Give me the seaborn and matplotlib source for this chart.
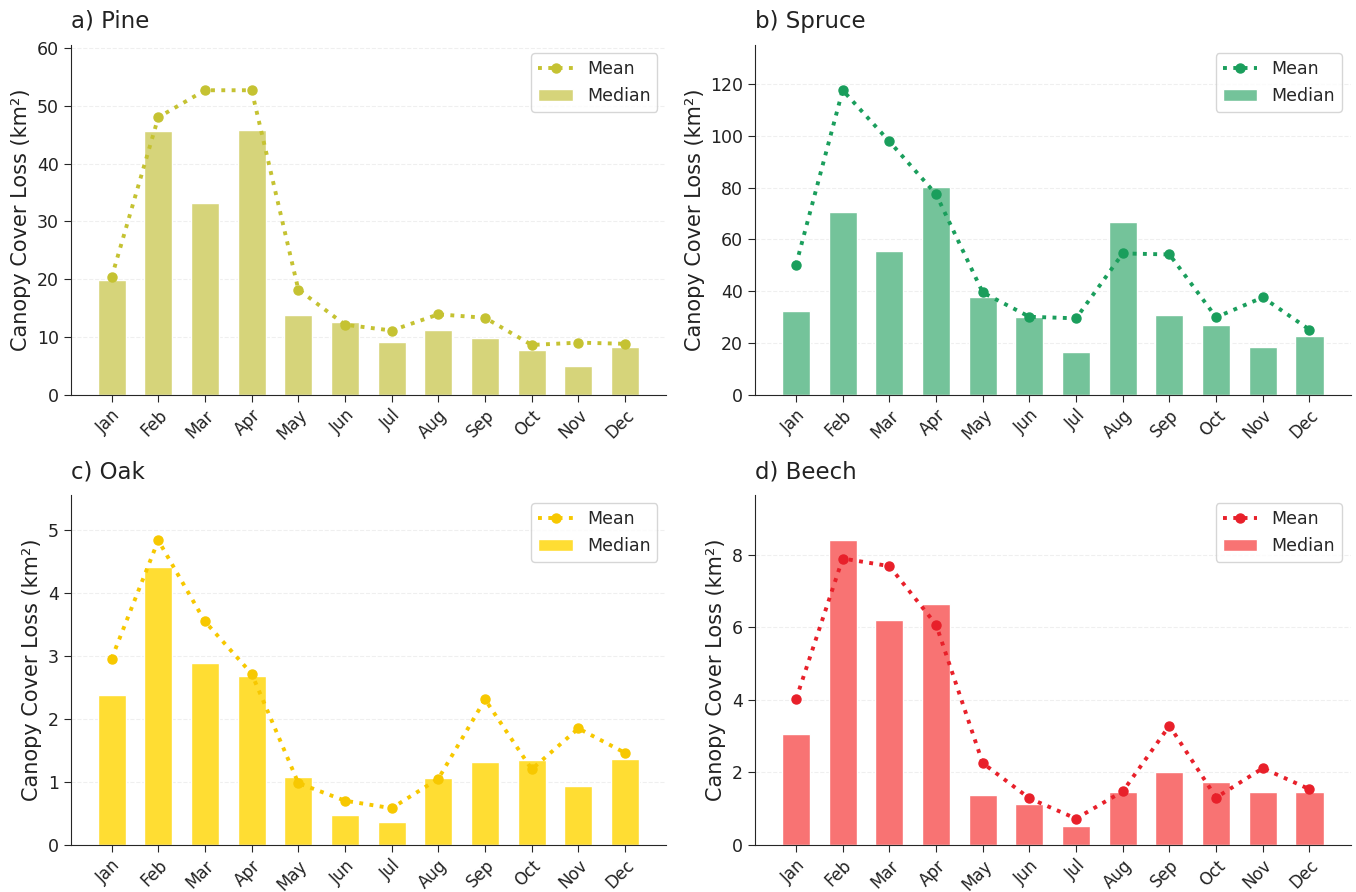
import numpy as np
import pandas as pd
import matplotlib
matplotlib.use("Agg")
import matplotlib.pyplot as plt
import seaborn as sns

# --- DATA ---
MONTHS = ["Jan", "Feb", "Mar", "Apr", "May", "Jun",
          "Jul", "Aug", "Sep", "Oct", "Nov", "Dec"]

pine_median = [19.8, 45.7, 33.1, 45.8, 13.8, 12.5, 9.1, 11.2, 9.8, 7.7, 5.0, 8.3]
pine_mean = [20.3, 48.0, 52.7, 52.7, 18.2, 12.1, 11.1, 13.9, 13.3, 8.6, 9.0, 8.8]

spruce_median = [32.4, 70.8, 55.6, 80.3, 37.9, 30.1, 16.4, 66.6, 30.9, 27.0, 18.5, 22.5]
spruce_mean = [50.2, 117.7, 97.9, 77.5, 39.5, 30.1, 29.5, 54.6, 54.2, 29.9, 37.6, 25.1]

oak_median = [2.38, 4.42, 2.89, 2.68, 1.08, 0.48, 0.36, 1.06, 1.32, 1.34, 0.94, 1.37]
oak_mean = [2.96, 4.84, 3.55, 2.72, 0.98, 0.70, 0.58, 1.05, 2.31, 1.20, 1.85, 1.46]

beech_median = [3.05, 8.39, 6.19, 6.64, 1.38, 1.12, 0.52, 1.46, 2.01, 1.72, 1.44, 1.44]
beech_mean = [4.01, 7.89, 7.68, 6.07, 2.25, 1.28, 0.72, 1.47, 3.28, 1.30, 2.11, 1.53]

PANELS = [
    ("a) Pine", pine_median, pine_mean, "#D6D47A", "#C5C232"),
    ("b) Spruce", spruce_median, spruce_mean, "#74C39A", "#1A9E5C"),
    ("c) Oak", oak_median, oak_mean, "#FFDD33", "#F7C800"),
    ("d) Beech", beech_median, beech_mean, "#F87373", "#E8202A"),
]


def main():
    sns.set_style("ticks")
    plt.rcParams["font.family"] = ["DejaVu Sans"]

    fig, axes = plt.subplots(2, 2, figsize=(13.56, 8.92), dpi=100)
    fig.subplots_adjust(left=0.052, right=0.996, bottom=0.053, top=0.950,
                        wspace=0.149, hspace=0.286)

    for ax, (title, median, mean, bar_col, line_col) in zip(axes.flat, PANELS):
        df = pd.DataFrame({"month": MONTHS, "median": median, "mean": mean})
        x = np.arange(len(MONTHS))

        ax.bar(x, df["median"], width=0.6, color=bar_col, label="Median", zorder=2)
        ax.plot(x, df["mean"], linestyle=":", linewidth=2.8, marker="o",
                markersize=6.5, color=line_col, label="Mean", zorder=3)

        top = 1.15 * max(df["median"].max(), df["mean"].max())
        ax.set_ylim(0, top)
        ax.set_xticks(x)
        ax.set_xticklabels(MONTHS, rotation=45, ha="right",
                           rotation_mode="anchor", fontsize=12, color="#222222")
        ax.tick_params(axis="y", labelsize=12.5, labelcolor="#222222")
        ax.tick_params(axis="both", length=5)
        ax.set_ylabel("Canopy Cover Loss (km²)", fontsize=15, color="#222222")
        ax.set_title(title, loc="left", fontsize=16.5, pad=12, color="#222222")
        ax.grid(axis="y", linestyle="--", alpha=0.3, zorder=0)
        for spine in ["top", "right"]:
            ax.spines[spine].set_visible(False)

        handles, labels = ax.get_legend_handles_labels()
        order = [labels.index("Mean"), labels.index("Median")]
        ax.legend([handles[i] for i in order], [labels[i] for i in order],
                  loc="upper right", fontsize=12.5, frameon=True)

    plt.savefig("out.png", dpi=100)


if __name__ == "__main__":
    main()
